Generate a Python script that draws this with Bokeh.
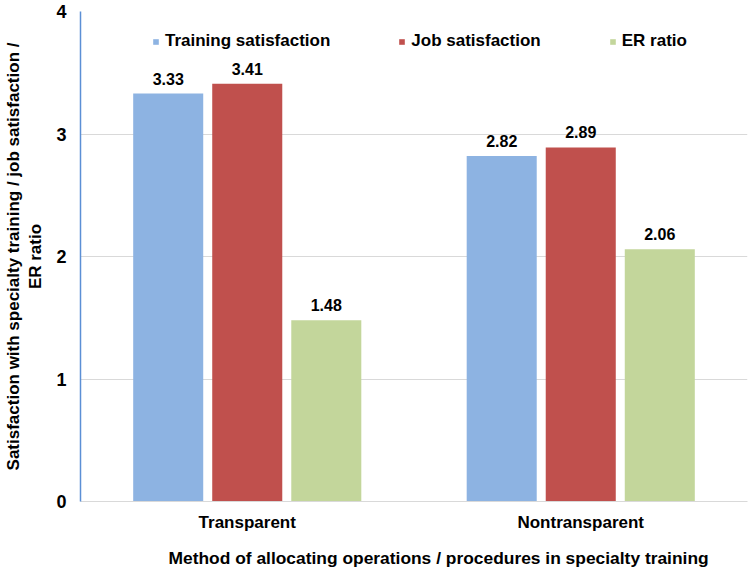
from bokeh.plotting import figure
from bokeh.models import Range1d, FixedTicker, ColumnDataSource, Legend, LegendItem, Title
from bokeh.core.properties import value
from bokeh.embed import file_html
from bokeh.resources import INLINE

categories = ["Transparent", "Nontransparent"]
series_names = ["Training satisfaction", "Job satisfaction", "ER ratio"]
training = [3.33, 2.82]
job = [3.41, 2.89]
er_ratio = [1.48, 2.06]
y_ticks = [0, 1, 2, 3, 4]
x_title = "Method of allocating operations / procedures in specialty training"
y_title = "Satisfaction with specialty training / job satisfaction /\nER ratio"

colors = ["#8DB3E2", "#C0504D", "#C3D69B"]
offsets = [-0.237, 0.0, 0.237]
bar_width = 0.21
FONT = "Liberation Sans"

p = figure(width=749, height=579, output_backend="svg", toolbar_location=None,
           x_range=Range1d(-0.5, 1.5), y_range=Range1d(0, 4),
           min_border_left=80, min_border_right=2, min_border_top=11, min_border_bottom=0)
p.outline_line_color = None
p.background_fill_color = "white"

renderers = []
for name, vals, col, off in zip(series_names, [training, job, er_ratio], colors, offsets):
    src = ColumnDataSource(dict(
        x=[i + off for i in range(len(categories))],
        top=vals,
        label=[f"{v:.2f}" for v in vals],
    ))
    r = p.vbar(x="x", top="top", width=bar_width, bottom=0, source=src,
               fill_color=col, line_color=None)
    p.text(x="x", y="top", text="label", source=src, text_align="center",
           text_baseline="middle", y_offset=-15, text_font=value(FONT),
           text_font_style="bold", text_font_size="16px", text_color="#000000")
    renderers.append((name, r))

legend = Legend(items=[LegendItem(label=n, renderers=[r]) for n, r in renderers],
                orientation="horizontal", location=(72, 450))
legend.padding = 0
legend.margin = 0
legend.spacing = 68
legend.label_standoff = 6
legend.glyph_width = 7
legend.glyph_height = 7
legend.label_height = 18
legend.label_text_font = FONT
legend.label_text_font_style = "bold"
legend.label_text_font_size = "17px"
legend.label_text_color = "#000000"
legend.border_line_color = None
legend.background_fill_alpha = 0
p.add_layout(legend, "center")

# axes
p.xaxis.ticker = FixedTicker(ticks=list(range(len(categories))))
p.xaxis.major_label_overrides = {i: c for i, c in enumerate(categories)}
p.xaxis.major_tick_line_color = None
p.xaxis.major_tick_out = 0
p.xaxis.minor_tick_line_color = None
p.xaxis.minor_tick_out = 0
p.xaxis.axis_line_color = "#D9D9D9"
p.xaxis.major_label_text_font = FONT
p.xaxis.major_label_text_font_style = "bold"
p.xaxis.major_label_text_font_size = "17px"
p.xaxis.major_label_text_color = "#000000"
p.xaxis.major_label_standoff = 11

# x-axis title, placed as in the reference (slightly right of the frame centre)
p.add_layout(Title(text=x_title, align="left", offset=88, standoff=23,
                   text_font=FONT, text_font_style="bold", text_font_size="17.4px",
                   text_color="#000000"), "below")

p.yaxis.ticker = FixedTicker(ticks=y_ticks)
p.yaxis.major_tick_line_color = None
p.yaxis.major_tick_out = 0
p.yaxis.minor_tick_line_color = None
p.yaxis.minor_tick_out = 0
p.yaxis.axis_line_color = "#5B8FD5"
p.yaxis.axis_line_width = 1.5
p.yaxis.major_label_text_font = FONT
p.yaxis.major_label_text_font_style = "bold"
p.yaxis.major_label_text_font_size = "18px"
p.yaxis.major_label_text_color = "#000000"
p.yaxis.major_label_standoff = 14
p.yaxis.axis_label = y_title
p.yaxis.axis_label_text_font = FONT
p.yaxis.axis_label_text_font_style = "bold"
p.yaxis.axis_label_text_font_size = "17px"
p.yaxis.axis_label_text_color = "#000000"
p.yaxis.axis_label_standoff = 8

p.xgrid.grid_line_color = None
p.ygrid.ticker = FixedTicker(ticks=y_ticks)
p.ygrid.grid_line_color = "#D9D9D9"
p.ygrid.grid_line_width = 1

open("out.html", "w").write(file_html(p, INLINE))
